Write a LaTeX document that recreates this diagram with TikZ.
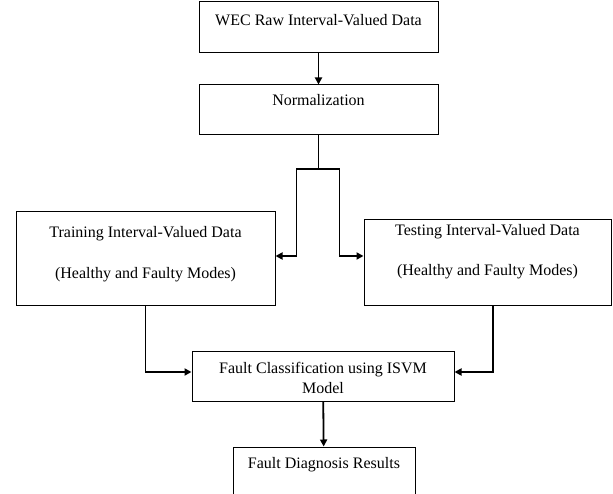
\documentclass[tikz,border=0pt]{standalone}
\usepackage{fontspec}
\setmainfont{Liberation Serif}
\usetikzlibrary{arrows.meta, positioning}

\begin{document}
\begin{tikzpicture}[
			x=1pt, y=-1pt,
			box/.style={rectangle, draw, line width=1pt, inner sep=0pt},
			caption/.style={font=\fontsize{16}{20}\selectfont, align=center, inner sep=0pt, anchor=base},
			link/.style={line width=1.8pt},
			arrow/.style={-{Triangle[length=7pt, width=7pt]}, line width=1.8pt}
		]
		\useasboundingbox (0,0) rectangle (613,494);
		\clip (0,0) rectangle (613,494);
		% Boxes
		\node[box, minimum width=239pt, minimum height=51pt] (raw) at (318.5,27.5) {};
		\node[caption] at ([yshift=-24pt]raw.north) {WEC Raw Interval-Valued Data};
		
		\node[box, minimum width=239pt, minimum height=50pt] (norm) at (318.5,110) {};
		\node[caption] at ([yshift=-21pt]norm.north) {Normalization};
		
		\node[box, minimum width=259pt, minimum height=94pt] (train) at (145.5,259) {};
		\node[caption] at ([yshift=-26pt]train.north) {Training Interval-Valued Data};
		\node[caption] at ([yshift=-67pt]train.north) {(Healthy and Faulty Modes)};
		
		\node[box, minimum width=247pt, minimum height=86pt] (test) at (487.5,263) {};
		\node[caption] at ([yshift=-16pt]test.north) {Testing Interval-Valued Data};
		\node[caption] at ([yshift=-56pt]test.north) {(Healthy and Faulty Modes)};
		
		\node[box, minimum width=262pt, minimum height=50pt] (isvm) at (323,376) {};
		\node[caption] at ([yshift=-43pt]isvm.north) {Fault Classification using ISVM\\Model};
		
		\node[box, minimum width=182pt, minimum height=73pt] (result) at (324,483.5) {};
		\node[caption] at ([yshift=-22pt]result.north) {Fault Diagnosis Results};
		
		% Arrows
		\coordinate (split) at (318.5,169);
		\draw[arrow] (raw) -- (norm);
		\draw[link] (norm.south) -- (split);
		\draw[arrow] (split) -- ++(-22,0) |- ([yshift=3pt]train.east);
		\draw[arrow] (split) -- ++(21,0) |- ([yshift=7pt]test.west);
		\draw[arrow] (train.south) |- ([yshift=4pt]isvm.west);
		\draw[arrow] ([xshift=5.5pt]test.south) |- ([yshift=4pt]isvm.east);
		\draw[arrow] (isvm) -- (result);
		\end{tikzpicture}
\end{document}
